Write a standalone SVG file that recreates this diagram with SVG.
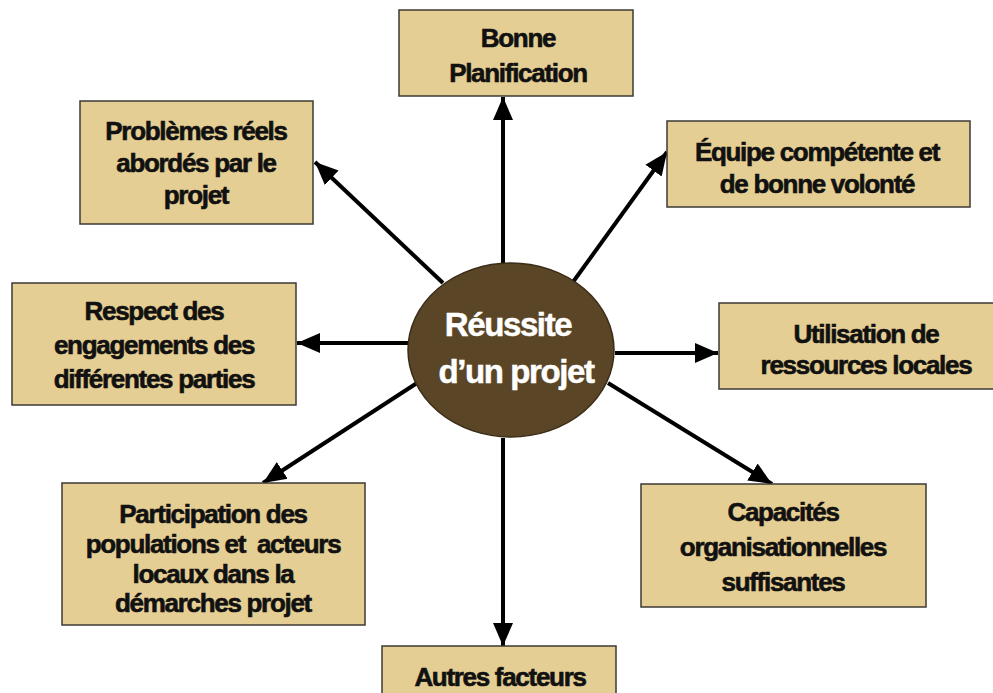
<svg xmlns="http://www.w3.org/2000/svg" width="993" height="693" viewBox="0 0 993 693">
<defs>
<marker id="ah" markerUnits="userSpaceOnUse" markerWidth="24" markerHeight="22" viewBox="0 0 24 22" refX="23" refY="11" orient="auto">
<path d="M0,1 L23,11 L0,21 Z" fill="#000"/>
</marker>
<style>
.box{fill:#e5ce93;stroke:#3c3a35;stroke-width:1.5}
.t{font-family:"Liberation Sans",Arial,sans-serif;font-weight:bold;font-size:26px;letter-spacing:-1.3px;fill:#111;stroke:#111;stroke-width:0.6;text-anchor:middle;white-space:pre}
.c{font-family:"Liberation Sans",Arial,sans-serif;font-weight:bold;font-size:33px;letter-spacing:-1.4px;fill:#fff;stroke:#fff;stroke-width:0.5;text-anchor:middle}
.ln{stroke:#000;stroke-width:4;fill:none;marker-end:url(#ah)}
</style>
</defs>
<rect width="993" height="693" fill="#fff"/>
<g id="connectors">
<line class="ln" x1="503" y1="263" x2="503" y2="97"/>
<line class="ln" x1="573" y1="282" x2="667" y2="152"/>
<line class="ln" x1="615" y1="353" x2="718" y2="353"/>
<line class="ln" x1="608" y1="383" x2="772" y2="484"/>
<line class="ln" x1="503" y1="438" x2="503" y2="646"/>
<line class="ln" x1="417" y1="383" x2="263" y2="483"/>
<line class="ln" x1="408" y1="343" x2="297" y2="343"/>
<line class="ln" x1="443" y1="283" x2="315" y2="162"/>
</g>
<g id="center">
<ellipse cx="511" cy="350" rx="103" ry="87" fill="#5a4526" stroke="#3a2c18" stroke-width="1.5"/>
<text class="c" x="508" y="336">Réussite</text>
<text class="c" x="516" y="383">d’un projet</text>
</g>
<g id="n-planification">
<rect class="box" x="399" y="10" width="234" height="86"/>
<text class="t" x="518" y="47">Bonne</text>
<text class="t" x="518" y="82">Planification</text>
</g>
<g id="n-equipe">
<rect class="box" x="667" y="121" width="303" height="86"/>
<text class="t" x="817" y="161">Équipe compétente et</text>
<text class="t" x="817" y="193">de bonne volonté</text>
</g>
<g id="n-ressources">
<rect class="box" x="719" y="303" width="294" height="86"/>
<text class="t" x="866" y="343">Utilisation de</text>
<text class="t" x="866" y="374">ressources locales</text>
</g>
<g id="n-capacites">
<rect class="box" x="641" y="484" width="285" height="123"/>
<text class="t" x="783" y="521">Capacités</text>
<text class="t" x="783" y="556">organisationnelles</text>
<text class="t" x="783" y="591">suffisantes</text>
</g>
<g id="n-autres">
<rect class="box" x="382" y="646" width="234" height="60"/>
<text class="t" x="500" y="686">Autres facteurs</text>
</g>
<g id="n-participation">
<rect class="box" x="62" y="483" width="303" height="142"/>
<text class="t" x="213" y="523">Participation des</text>
<text class="t" x="213" y="553" xml:space="preserve">populations et  acteurs</text>
<text class="t" x="213" y="583">locaux dans la</text>
<text class="t" x="213" y="612">démarches projet</text>
</g>
<g id="n-respect">
<rect class="box" x="12" y="283" width="284" height="122"/>
<text class="t" x="154" y="320">Respect des</text>
<text class="t" x="154" y="354">engagements des</text>
<text class="t" x="154" y="388">différentes parties</text>
</g>
<g id="n-problemes">
<rect class="box" x="80" y="101" width="233" height="123"/>
<text class="t" x="196" y="140">Problèmes réels</text>
<text class="t" x="196" y="172">abordés par le</text>
<text class="t" x="196" y="204">projet</text>
</g>
</svg>
